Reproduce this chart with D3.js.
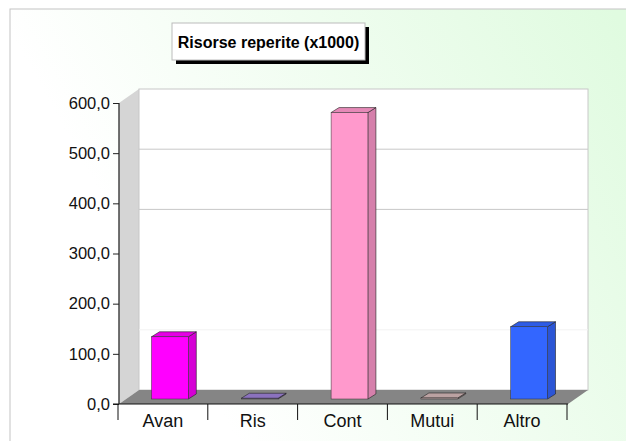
<!DOCTYPE html>
<html lang="it">
<head>
<meta charset="UTF-8">
<script src="https://d3js.org/d3.v7.min.js"></script>
<title>Risorse reperite</title>
<style>
  body { margin: 0; background: #fff; }
  text { font-family: "Liberation Sans", Arial, sans-serif; }
</style>
</head>
<body>
<script>
// dati
var categories = ["Avan", "Ris", "Cont", "Mutui", "Altro"];
var values = [124, 1.5, 571, 2, 144];
var barColors = ["#ff00ff", "#9b7fd4", "#ff99cc", "#d0b4b4", "#3366ff"];
var yTicks = [0, 100, 200, 300, 400, 500, 600];
var gridValues = [120, 360, 480];
var title = "Risorse reperite (x1000)";

var width = 626, height = 441;
var depthX = 20, depthY = -14;       // profondità del pavimento
var offX = 7, offY = -5;             // posizione della barra dentro la profondità
var barDX = 8, barDY = -5;           // spessore della barra

var fmt = d3.formatLocale({decimal: ",", thousands: ".", grouping: [3], currency: ["", "€"]}).format(".1f");

var x = d3.scaleBand().domain(categories).range([118, 567]).paddingInner(0).paddingOuter(0);
var y = d3.scaleLinear().domain([0, 600]).range([404, 103]);

var svg = d3.select("body").append("svg")
    .attr("width", width).attr("height", height);

var defs = svg.append("defs");
var grad = defs.append("linearGradient").attr("id", "bg")
    .attr("x1", "0").attr("y1", "0.4").attr("x2", "1").attr("y2", "0");
grad.append("stop").attr("offset", "0.12").attr("stop-color", "#ffffff");
grad.append("stop").attr("offset", "0.95").attr("stop-color", "#e0fbe0");

svg.append("rect").attr("x", 10).attr("y", 9).attr("width", 640).attr("height", 460)
    .attr("fill", "url(#bg)").attr("stroke", "#c4c4c4");

// titolo
svg.append("rect").attr("x", 176).attr("y", 27).attr("width", 193).attr("height", 37).attr("fill", "#000");
svg.append("rect").attr("x", 172).attr("y", 23).attr("width", 193).attr("height", 37)
    .attr("fill", "#fff").attr("stroke", "#bbb");
svg.append("text").attr("x", 268.5).attr("y", 47.5).attr("text-anchor", "middle")
    .attr("font-size", 16).attr("font-weight", "bold").text(title);

var x0 = x.range()[0], x1 = x.range()[1];
var yTop = y(600), y0 = y(0);

// parete laterale
svg.append("polygon")
    .attr("points", [[x0 + 1, yTop], [x0 + 1 + depthX, yTop + depthY], [x0 + 1 + depthX, y0 + depthY], [x0 + 1, y0]].join(" "))
    .attr("fill", "#d5d5d5");

// parete di fondo
svg.append("rect").attr("x", x0 + 1 + depthX).attr("y", yTop + depthY)
    .attr("width", x1 - x0).attr("height", y0 - yTop)
    .attr("fill", "#fff").attr("stroke", "#c8c8c8");

svg.selectAll("line.grid").data(gridValues).enter().append("line")
    .attr("class", "grid")
    .attr("x1", x0 + 1 + depthX).attr("x2", x1 + 1 + depthX)
    .attr("y1", function(d) { return y(d) + depthY; })
    .attr("y2", function(d) { return y(d) + depthY; })
    .attr("stroke", function(d) { return d === 120 ? "#f2f2f2" : "#c8c8c8"; });

// pavimento
svg.append("polygon")
    .attr("points", [[x0 + 1, y0], [x0 + 1 + depthX, y0 + depthY], [x1 + 1 + depthX, y0 + depthY], [x1 + 1, y0]].join(" "))
    .attr("fill", "#858585");

// barre 3D
var bw = x.bandwidth() * 0.41;
var bars = svg.selectAll("g.bar").data(values).enter().append("g").attr("class", "bar");

function fx(i) { return x(categories[i]) + (x.bandwidth() - bw) / 2 + offX; }
function barBase() { return y(0) + offY; }
function barTop(d) { return y(d) + offY; }

bars.append("polygon") // lato destro
    .attr("points", function(d, i) {
        var l = fx(i) + bw;
        return [[l, barTop(d)], [l + barDX, barTop(d) + barDY], [l + barDX, barBase() + barDY], [l, barBase()]].join(" ");
    })
    .attr("fill", function(d, i) { return d3.color(barColors[i]).darker(0.5); })
    .attr("stroke", "#222").attr("stroke-width", 0.6);

bars.append("polygon") // faccia superiore
    .attr("points", function(d, i) {
        var l = fx(i);
        return [[l, barTop(d)], [l + barDX, barTop(d) + barDY], [l + bw + barDX, barTop(d) + barDY], [l + bw, barTop(d)]].join(" ");
    })
    .attr("fill", function(d, i) { return d3.color(barColors[i]).darker(0.3); })
    .attr("stroke", "#222").attr("stroke-width", 0.6);

bars.append("rect") // fronte
    .attr("x", function(d, i) { return fx(i); })
    .attr("y", function(d) { return barTop(d); })
    .attr("width", bw)
    .attr("height", function(d) { return barBase() - barTop(d); })
    .attr("fill", function(d, i) { return barColors[i]; })
    .attr("stroke", "#333").attr("stroke-width", 0.5);

// asse y
var yAxis = d3.axisLeft(y).tickValues(yTicks).tickFormat(fmt).tickSize(6).tickPadding(3);
var gy = svg.append("g").attr("transform", "translate(" + (x0 + 1) + ",0)").call(yAxis);
gy.select(".domain").attr("stroke", "#444").attr("stroke-width", 1.5).attr("d", "M0," + yTop + "V" + y0);
gy.selectAll(".tick line").attr("stroke", "#222");
gy.selectAll(".tick text").attr("font-size", 16.5).attr("fill", "#111")
    .attr("font-family", "Liberation Sans, Arial, sans-serif");

// asse x
var xAxis = d3.axisBottom(x).tickSize(0).tickPadding(10);
var gx = svg.append("g").attr("transform", "translate(0," + y0 + ")").call(xAxis);
gx.select(".domain").attr("stroke", "#111").attr("d", "M" + (x0 - 5) + ",0H" + (x1 + 1));
gx.selectAll(".tick text").attr("font-size", 18).attr("fill", "#111")
    .attr("font-family", "Liberation Sans, Arial, sans-serif");

var bounds = categories.map(function(c) { return x(c); }).concat([x1]);
gx.selectAll("line.sep").data(bounds).enter().append("line")
    .attr("class", "sep")
    .attr("x1", function(d) { return d; }).attr("x2", function(d) { return d; })
    .attr("y1", 0).attr("y2", 16)
    .attr("stroke", "#111");
</script>
</body>
</html>
